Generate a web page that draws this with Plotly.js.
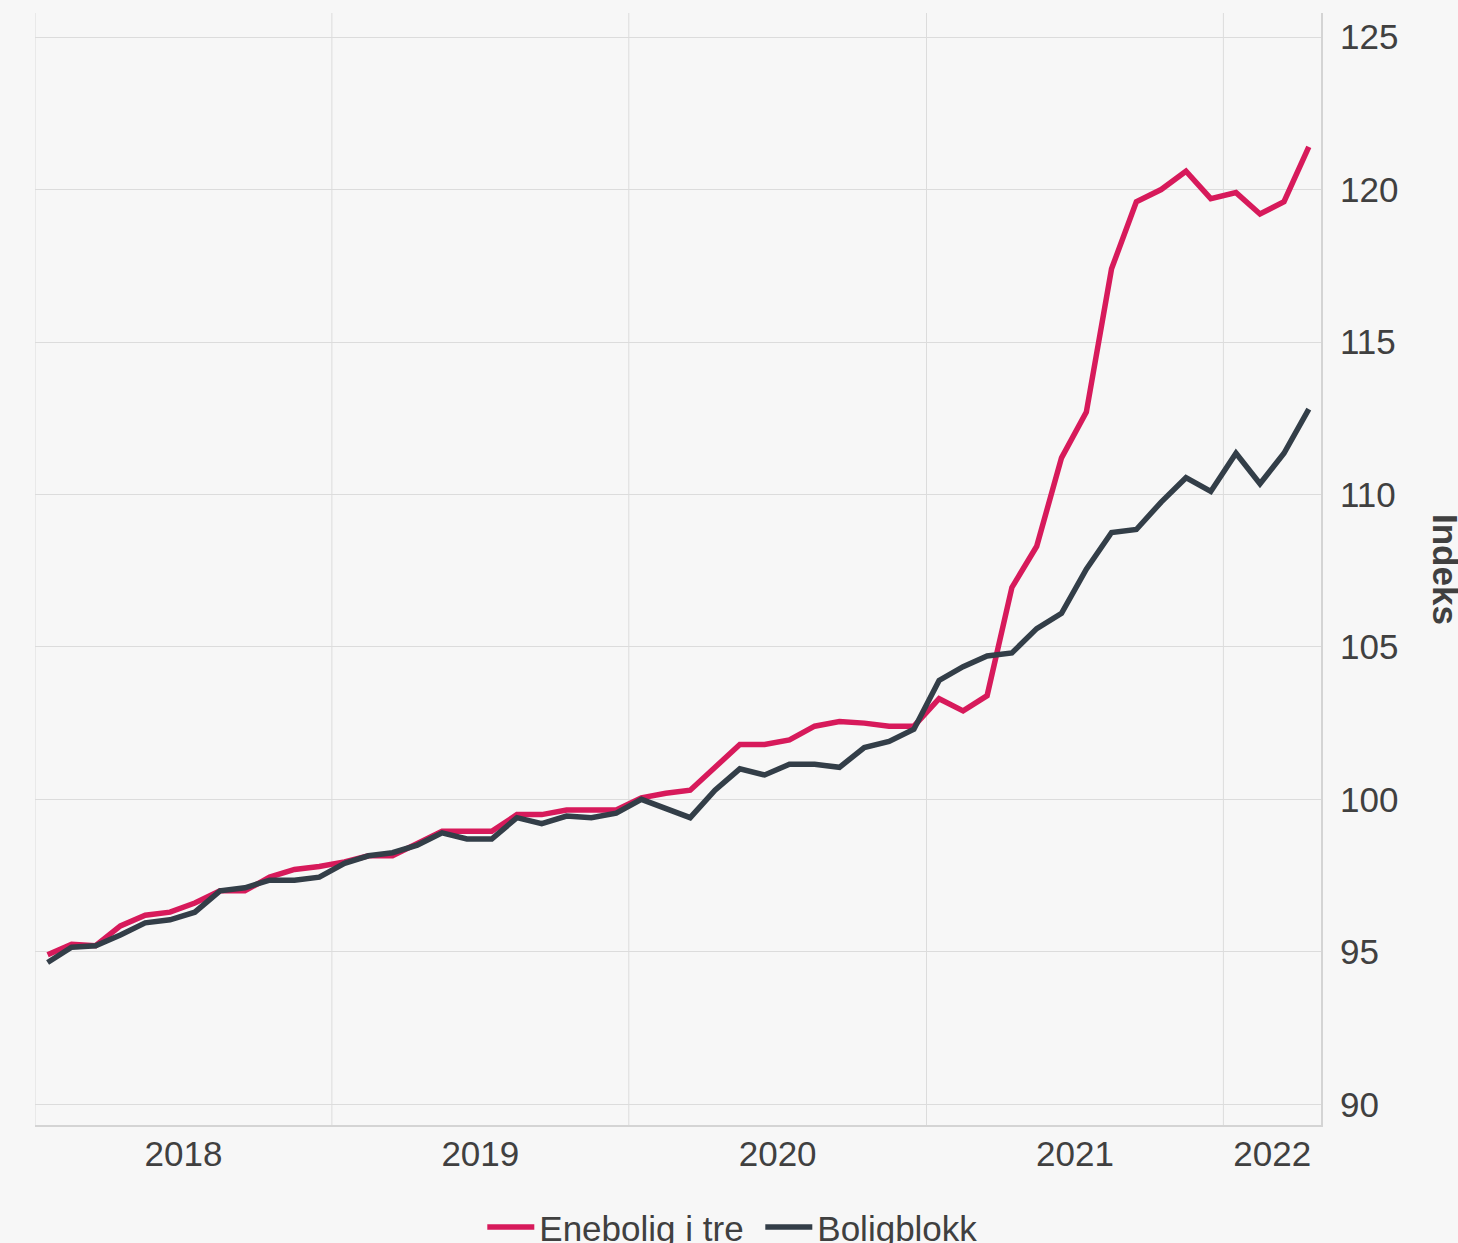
<!DOCTYPE html>
<html>
<head>
<meta charset="utf-8">
<script src="https://cdn.plot.ly/plotly-3.0.1.min.js"></script>
<style>html,body{margin:0;padding:0;background:#f7f7f7;}#chart{width:1458px;height:1243px;}</style>
</head>
<body>
<div id="chart"></div>
<script>
// ---- data ----
const months = [
 '2018-01','2018-02','2018-03','2018-04','2018-05','2018-06','2018-07','2018-08','2018-09','2018-10','2018-11','2018-12',
 '2019-01','2019-02','2019-03','2019-04','2019-05','2019-06','2019-07','2019-08','2019-09','2019-10','2019-11','2019-12',
 '2020-01','2020-02','2020-03','2020-04','2020-05','2020-06','2020-07','2020-08','2020-09','2020-10','2020-11','2020-12',
 '2021-01','2021-02','2021-03','2021-04','2021-05','2021-06','2021-07','2021-08','2021-09','2021-10','2021-11','2021-12',
 '2022-01','2022-02','2022-03','2022-04'
];
const enebolig = [
 94.9, 95.25, 95.2, 95.85, 96.2, 96.3, 96.6, 97.0, 97.0, 97.45, 97.7, 97.8,
 97.95, 98.15, 98.15, 98.55, 98.95, 98.95, 98.95, 99.5, 99.5, 99.65, 99.65, 99.65,
 100.05, 100.2, 100.3, 101.05, 101.8, 101.8, 101.95, 102.4, 102.55, 102.5, 102.4, 102.4,
 103.3, 102.9, 103.4, 106.95, 108.3, 111.2, 112.7, 117.4, 119.6, 120.0, 120.6, 119.7,
 119.9, 119.2, 119.6, 121.4
];
const boligblokk = [
 94.65, 95.15, 95.2, 95.55, 95.95, 96.05, 96.3, 97.0, 97.1, 97.35, 97.35, 97.45,
 97.9, 98.15, 98.25, 98.5, 98.9, 98.7, 98.7, 99.4, 99.2, 99.45, 99.4, 99.55,
 100.0, 99.7, 99.4, 100.3, 101.0, 100.8, 101.15, 101.15, 101.05, 101.7, 101.9, 102.3,
 103.9, 104.35, 104.7, 104.8, 105.6, 106.1, 107.55, 108.75, 108.85, 109.75, 110.55, 110.1,
 111.35, 110.35, 111.35, 112.8
];
const seriesNames = ['Enebolig i tre', 'Boligblokk'];
const years = [2018, 2019, 2020, 2021, 2022];
const yTitle = 'Indeks';

// ---- styling ----
const FONT = 'Liberation Sans, Arial, Helvetica, sans-serif';
const TEXT = '#404040';
const GRID = '#dcdcdc';
const AXIS = '#d4d4d4';
const BG = '#f7f7f7';
const COLORS = ['#d71a5b', '#333e48'];

const xRange = ['2018-01-01', '2022-05-01'];
const r0 = Date.parse(xRange[0] + 'T00:00:00Z');
const r1 = Date.parse(xRange[1] + 'T00:00:00Z');
function fmt(ms){ return new Date(ms).toISOString().slice(0,19).replace('T',' '); }

const tickvals = [], ticktext = [], shapes = [];
years.forEach(y => {
  const s = Date.UTC(y,0,1), e = Date.UTC(y+1,0,1);
  const a = Math.max(s, r0), b = Math.min(e, r1);
  tickvals.push(fmt((a+b)/2));
  ticktext.push(String(y));
  shapes.push({type:'line', xref:'x', yref:'paper', x0: fmt(s), x1: fmt(s), y0:0, y1:1,
    line:{color: GRID, width:1}, layer:'below'});
});

const traces = [enebolig, boligblokk].map((vals, i) => ({
  type:'scatter', mode:'lines', name: seriesNames[i],
  x: months, y: vals, xperiod:'M1', xperiodalignment:'middle',
  line:{color: COLORS[i], width:5.5}
}));

const layout = {
  width:1458, height:1243,
  paper_bgcolor: BG, plot_bgcolor: BG,
  margin:{l:35, r:137, t:13, b:118, autoexpand:false},
  font:{family: FONT, size:35, color: TEXT},
  showlegend:true,
  legend:{orientation:'h', x:0.564, xanchor:'center', y:-0.092, yanchor:'middle',
    font:{family: FONT, size:35, color: TEXT}, itemwidth:47, entrywidth:216, entrywidthmode:'pixels',
    bgcolor:'rgba(0,0,0,0)'},
  xaxis:{type:'date', range: xRange, tickmode:'array', tickvals: tickvals, ticktext: ticktext,
    showgrid:false, zeroline:false, showline:true, linecolor: AXIS, linewidth:2,
    ticks:'', ticklabelstandoff:-3, tickfont:{family: FONT, size:35, color: TEXT}},
  yaxis:{side:'right', range:[89.32, 125.79], tickmode:'linear', tick0:90, dtick:5,
    showgrid:true, gridcolor: GRID, gridwidth:1, zeroline:false,
    showline:true, linecolor: AXIS, linewidth:2, ticks:'', ticklabelstandoff:10,
    tickfont:{family: FONT, size:35, color: TEXT}},
  shapes: shapes,
  annotations:[{text:'<b>' + yTitle + '</b>', xref:'paper', yref:'paper',
    x:(1446-35)/1286, y:0.5, xanchor:'center', yanchor:'middle', textangle:90,
    showarrow:false, font:{family: FONT, size:35, color: TEXT}}]
};

Plotly.newPlot('chart', traces, layout, {displayModeBar:false, staticPlot:true});
</script>
</body>
</html>
